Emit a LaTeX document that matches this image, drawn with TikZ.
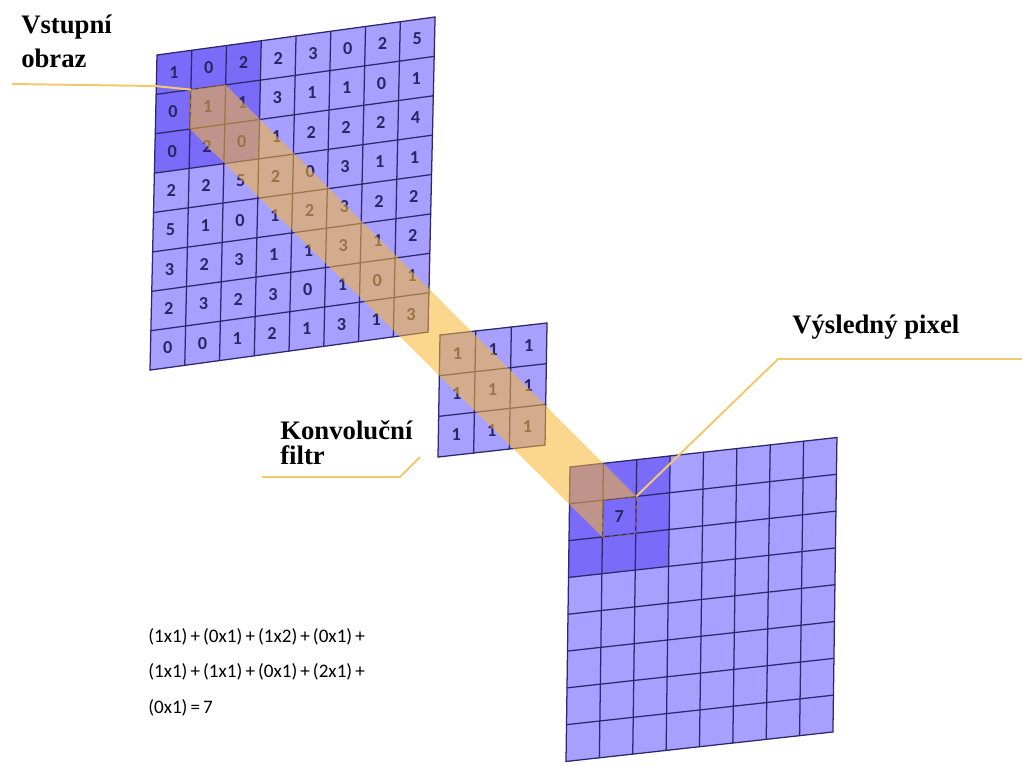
\documentclass[tikz,border=0pt]{standalone}
\usepackage{fontspec}
\setmainfont{Liberation Serif}
\newfontfamily\calibri{Carlito}
\usetikzlibrary{calc}

\definecolor{cellA}{RGB}{168,160,255}
\definecolor{cellB}{RGB}{122,108,248}
\definecolor{gridline}{RGB}{45,40,110}
\definecolor{beam}{RGB}{247,182,50}
\definecolor{callout}{RGB}{242,200,110}
\definecolor{digit}{RGB}{40,38,100}

\tikzset{
  light/.style={fill=cellA},
  dark/.style={fill=cellB},
  gridlines/.style={draw=gridline, line width=0.9pt, line cap=round},
  num/.style={font={\calibri\bfseries\fontsize{13}{13}\selectfont}, text=digit, inner sep=0pt},
  callouttext/.style={font={\bfseries\fontsize{19}{24}\selectfont}, align=left, inner sep=0pt},
  formula/.style={font={\calibri\fontsize{13.6}{25}\selectfont\spaceskip=0.16em\relax}, align=left, inner sep=0pt},
  leader/.style={draw=callout, line width=1.4pt},
  hilite/.style={draw=beam!70!black, line width=0.6pt, dashed},
}

\begin{document}
\begin{tikzpicture}[x=0.025cm, y=-0.025cm]
\useasboundingbox (0,0) rectangle (1022,765);

% input image
\begin{scope}[shift={(157,55)}, x={(0.86875cm,0.11875cm)}, y={(-0.021875cm,-0.984375cm)}]
  \fill[light] (0,0) -- (8,0) -- (8,8) -- (0,8) -- cycle;
  \fill[dark] (0,0) -- (3,0) -- (3,3) -- (0,3) -- cycle;
  \foreach \i in {0,...,8} {
    \draw[gridlines] (\i,0) -- (\i,8);
    \draw[gridlines] (0,\i) -- (8,\i);
  }
  \foreach \row [count=\r from 0] in {{1,0,2,2,3,0,2,5},{0,1,1,3,1,1,0,1},{0,2,0,1,2,2,2,4},{2,2,5,2,0,3,1,1},{5,1,0,1,2,3,2,2},{3,2,3,1,1,3,1,2},{2,3,2,3,0,1,0,1},{0,0,1,2,1,3,1,3}}
    \foreach \v [count=\c from 0] in \row
      \node[num] at (\c+0.5,\r+0.5) {\v};
  \coordinate (in-tl) at (1,1);
  \coordinate (in-tr) at (2,1);
  \coordinate (in-br) at (2,2);
  \coordinate (in-bl) at (1,2);
\end{scope}

% filter
\begin{scope}[shift={(440,335)}, x={(0.89167cm,0.1cm)}, y={(-0.01667cm,-1.01667cm)}]
  \fill[light] (0,0) -- (3,0) -- (3,3) -- (0,3) -- cycle;
  \foreach \i in {0,...,3} {
    \draw[gridlines] (\i,0) -- (\i,3);
    \draw[gridlines] (0,\i) -- (3,\i);
  }
  \foreach \r in {0,1,2}
    \foreach \c in {0,1,2}
      \node[num] at (\c+0.5,\r+0.5) {1};
\end{scope}

% output
\begin{scope}[shift={(570,467)}, x={(0.834cm,0.0922cm)}, y={(-0.0125cm,-0.92cm)}]
  \fill[light] (0,0) -- (8,0) -- (8,8) -- (0,8) -- cycle;
  \fill[dark] (0,0) -- (3,0) -- (3,3) -- (0,3) -- cycle;
  \foreach \i in {0,...,8} {
    \draw[gridlines] (\i,0) -- (\i,8);
    \draw[gridlines] (0,\i) -- (8,\i);
  }
  \node[num] at (1.5,1.5) {7};
  \coordinate (out-tl) at (1,1);
  \coordinate (out-tr) at (2,1);
  \coordinate (out-br) at (2,2);
  \coordinate (out-bl) at (1,2);
\end{scope}

% beam
\fill[beam, opacity=0.55] (in-tl) -- (in-tr) -- (out-tr) -- (out-tl) -- (out-bl) -- (in-bl) -- cycle;
\draw[hilite] (in-tl) -- (in-tr) -- (in-br) -- (in-bl) -- cycle;
\draw[hilite] (out-tl) -- (out-tr) -- (out-br) -- (out-bl) -- cycle;

% callouts
\coordinate (vs-end) at (12,84);
\coordinate (vs-knee) at (155,86);
\coordinate (vp-end) at (1022,359);
\coordinate (vp-knee) at (778,359);
\coordinate (kf-end) at (262,477);
\coordinate (kf-knee) at (400,477);
\coordinate (kf-tip) at (420,457);
\draw[leader] (vs-end) -- (vs-knee) -- (in-tl);
\draw[leader] (vp-end) -- (vp-knee) -- (out-tr);
\draw[leader] (kf-end) -- (kf-knee) -- (kf-tip);

\node[callouttext, anchor=base west] (vstup) at (21,67) {Vstupní\\obraz};
\node[callouttext, anchor=base west] (vysl) at (792,333) {Výsledný pixel};
\node[callouttext, anchor=base west, font={\bfseries\fontsize{19}{17.5}\selectfont}] (konv) at (280,464) {Konvoluční\\filtr};
\node[formula, anchor=base west] (sum) at (148,713) {(1x1) + (0x1) + (1x2) + (0x1) +\\(1x1) + (1x1) + (0x1) + (2x1) +\\(0x1) = 7};
\end{tikzpicture}
\end{document}
